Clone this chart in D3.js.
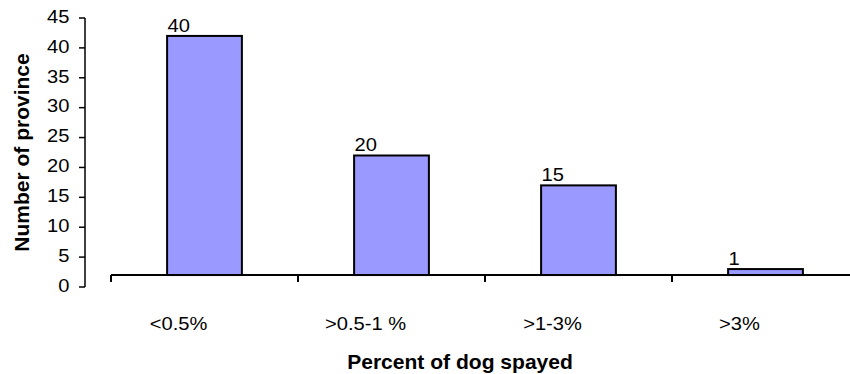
<!DOCTYPE html>
<html>
<head>
<meta charset="utf-8">
<script src="https://cdn.jsdelivr.net/npm/d3@7/dist/d3.min.js"></script>
<style>
  html, body { margin: 0; padding: 0; background: #fff; }
  svg { display: block; font-family: "Liberation Sans", Arial, Helvetica, sans-serif; }
</style>
</head>
<body>
<svg id="chart" width="850" height="374"></svg>
<script>
// Provinces grouped by share of dogs spayed
const categories = ["<0.5%", ">0.5-1 %", ">1-3%", ">3%"];
const provinceCounts = [40, 20, 15, 1];
const yTickValues = [0, 5, 10, 15, 20, 25, 30, 35, 40, 45];
const yTitle = "Number of province";
const xTitle = "Percent of dog spayed";

// The category floor sits slightly above zero, as in a raised-floor column chart
const floorLevel = 2;

const svg = d3.select("#chart");
const ink = "#000";
const stretch = 1.15;

const y = d3.scaleLinear().domain([0, 45]).range([287, 18]);
const x = d3.scaleBand().domain(categories).range([111, 859]).padding(0);
const barW = x.bandwidth() * 0.4;
const axisX = 85;
const floorY = y(floorLevel);

// Y axis
const yAxis = svg.append("g");
yAxis.append("line")
  .attr("x1", axisX).attr("x2", axisX)
  .attr("y1", y(0)).attr("y2", y(45))
  .attr("stroke", ink).attr("stroke-width", 1.5);
yAxis.selectAll("line.tick").data(yTickValues).join("line")
  .attr("class", "tick")
  .attr("x1", axisX - 6).attr("x2", axisX)
  .attr("y1", d => y(d)).attr("y2", d => y(d))
  .attr("stroke", ink).attr("stroke-width", 1.5);
yAxis.selectAll("text").data(yTickValues).join("text")
  .attr("transform", d => `translate(69.5,${y(d) + 4.8}) scale(${stretch},1)`)
  .attr("text-anchor", "end")
  .attr("font-size", 17.5)
  .attr("fill", ink)
  .text(d => d);

// Bars
svg.append("g").selectAll("rect").data(provinceCounts).join("rect")
  .attr("x", (d, i) => x(categories[i]) + (x.bandwidth() - barW) / 2)
  .attr("y", d => y(floorLevel + d))
  .attr("width", barW)
  .attr("height", d => floorY - y(floorLevel + d))
  .attr("fill", "#9999FF")
  .attr("stroke", ink)
  .attr("stroke-width", 2);

// Value labels above bars
svg.append("g").selectAll("text").data(provinceCounts).join("text")
  .attr("transform", (d, i) =>
    `translate(${x(categories[i]) + (x.bandwidth() - barW) / 2 + 0.5},${y(floorLevel + d) - 4}) scale(${stretch},1)`)
  .attr("font-size", 17.5)
  .attr("fill", ink)
  .text(d => d);

// X axis (category floor)
const xAxis = svg.append("g");
xAxis.append("line")
  .attr("x1", x.range()[0]).attr("x2", x.range()[1])
  .attr("y1", floorY).attr("y2", floorY)
  .attr("stroke", ink).attr("stroke-width", 2);
const boundaries = categories.map(c => x(c)).concat([x.range()[1]]);
xAxis.selectAll("line.tick").data(boundaries).join("line")
  .attr("class", "tick")
  .attr("x1", d => d).attr("x2", d => d)
  .attr("y1", floorY).attr("y2", floorY + 7)
  .attr("stroke", ink).attr("stroke-width", 2);
xAxis.selectAll("text").data(categories).join("text")
  .attr("transform", d => `translate(${x(d) + x.bandwidth() / 2 - 26},330) scale(${stretch},1)`)
  .attr("text-anchor", "middle")
  .attr("font-size", 17.5)
  .attr("fill", ink)
  .text(d => d);

// Axis titles
svg.append("text")
  .attr("transform", "translate(460,369) scale(1.08,1)")
  .attr("text-anchor", "middle")
  .attr("font-size", 19.5)
  .attr("font-weight", "bold")
  .attr("fill", ink)
  .text(xTitle);

svg.append("text")
  .attr("transform", `translate(29,${(y(0) + y(45)) / 2}) rotate(-90)`)
  .attr("text-anchor", "middle")
  .attr("font-size", 21)
  .attr("font-weight", "bold")
  .attr("fill", ink)
  .text(yTitle);
</script>
</body>
</html>
